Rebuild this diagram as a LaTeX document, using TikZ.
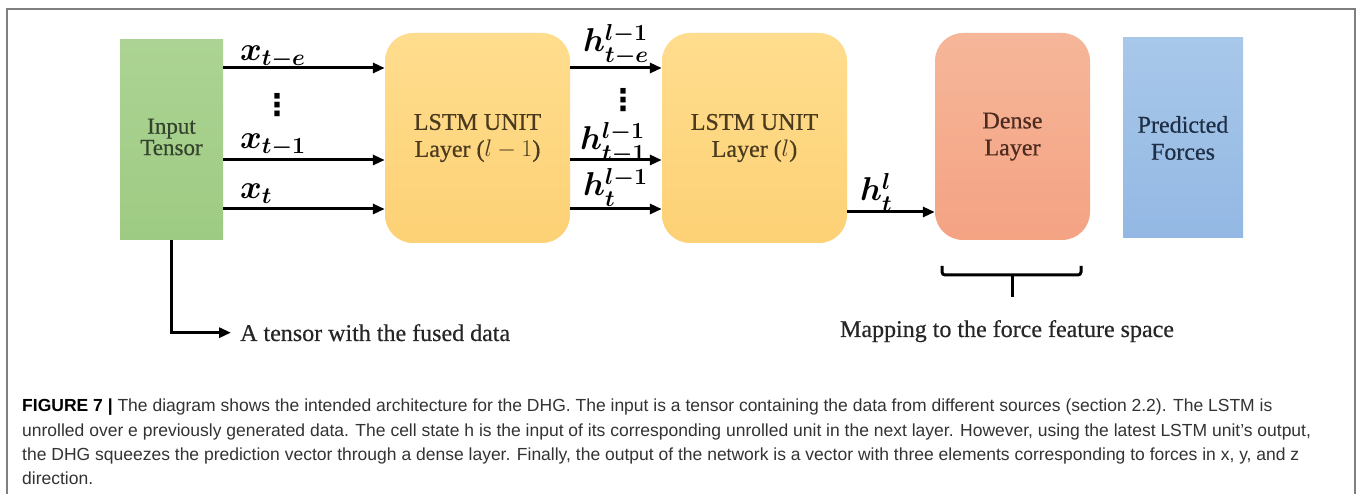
\documentclass[tikz,border=0pt]{standalone}
\usepackage{fix-cm}
\usepackage{fontspec}
\setmainfont{Liberation Serif}
\newfontfamily\capfont{Liberation Sans}
\newfontfamily\boxfont[FakeBold=0.5]{Liberation Serif}
\newfontfamily\dotfont{DejaVu Sans}
\usetikzlibrary{arrows.meta}
\definecolor{framec}{HTML}{7F7F7F}
\definecolor{greenT}{HTML}{ACD393}
\definecolor{greenB}{HTML}{9ECB84}
\definecolor{yelT}{HTML}{FFDD8E}
\definecolor{yelB}{HTML}{FDD175}
\definecolor{orT}{HTML}{F6B699}
\definecolor{orB}{HTML}{F4A383}
\definecolor{blT}{HTML}{A8C8EA}
\definecolor{blB}{HTML}{93B8E3}
\definecolor{greenTx}{HTML}{34432C}
\definecolor{yelTx}{HTML}{4A3A1E}
\definecolor{orTx}{HTML}{4C2A20}
\definecolor{blTx}{HTML}{1E2E45}
\definecolor{capc}{HTML}{333333}
\begin{document}
\begin{tikzpicture}[x=1pt,y=-1pt,
  box/.style={draw=none,inner sep=0pt,align=center,font=\boxfont\fontsize{24}{27}\selectfont},
  lstm/.style={box,rounded corners=28pt,minimum width=185pt,minimum height=210pt,top color=yelT,bottom color=yelB,text=yelTx},
  conn/.style={line width=3pt,-{Triangle[length=12pt,width=10pt]}},
  lab/.style={inner sep=0pt,anchor=base west,font=\boldmath\fontsize{33}{34}\selectfont},
  dotsn/.style={inner sep=0pt,font=\dotfont\bfseries\fontsize{30}{30}\selectfont},
  ann/.style={inner sep=0pt,font=\boxfont\fontsize{24}{28}\selectfont,text=black!85},
  capline/.style={inner sep=0pt,anchor=base west,font=\capfont\fontsize{17.5}{24}\selectfont,text=capc}
]
\useasboundingbox (0,0) rectangle (1360,494);
\fill[white] (0,0) rectangle (1360,494);
\draw[framec,line width=2pt] (7,494) -- (7,9) -- (1355,9) -- (1355,494);

% boxes
\node[box,minimum width=103pt,minimum height=200pt,top color=greenT,bottom color=greenB,text=greenTx,font=\boxfont\fontsize{23}{21}\selectfont] (inp) at (171.5,140) {\raisebox{-6pt}{\begin{tabular}{@{}c@{}}Input\\Tensor\end{tabular}}};
\node[lstm] (l1) at (477.5,138) {LSTM UNIT\\Layer ($l-1$)};
\node[lstm] (l2) at (754.5,138) {LSTM UNIT\\Layer ($l$)};
\node[box,rounded corners=28pt,minimum width=155pt,minimum height=207pt,top color=orT,bottom color=orB,text=orTx] (dense) at (1012.5,136.5) {\raisebox{-3pt}{\begin{tabular}{@{}c@{}}Dense\\Layer\end{tabular}}};
\node[box,minimum width=120pt,minimum height=200pt,top color=blT,bottom color=blB,text=blTx] (pred) at (1183,138) {Predicted\\Forces};

% row levels
\coordinate (r1) at (0,68);
\coordinate (r2) at (0,160);
\coordinate (r3) at (0,209);
\coordinate (r4) at (0,212);

% arrows
\draw[conn] (inp.east |- r1) -- (l1.west |- r1);
\draw[conn] (inp.east |- r2) -- (l1.west |- r2);
\draw[conn] (inp.east |- r3) -- (l1.west |- r3);
\draw[conn] (l1.east |- r1) -- (l2.west |- r1);
\draw[conn] (l1.east |- r2) -- (l2.west |- r2);
\draw[conn] (l1.east |- r3) -- (l2.west |- r3);
\draw[conn] (l2.east |- r4) -- (dense.west |- r4);

% labels
\node[lab] (lxe) at (240,61) {$x_{t-e}$};
\node[lab] (lx1) at (240,149) {$x_{t-1}$};
\node[lab] (lxt) at (240,199) {$x_t$};
\node[dotsn] (dx) at (277,105) {⋮};
\node[lab] (lhe) at (583,52) {$h^{l-1}_{t-e}$};
\node[lab] (lh1) at (580,150) {$h^{l-1}_{t-1}$};
\node[lab] (lht) at (583,196) {$h^{l-1}_{t}$};
\node[dotsn] (dh) at (623,100) {⋮};
\node[lab] (lhl) at (860,201) {$h^{l}_{t}$};

% tensor annotation
\node[ann,anchor=base west] (tt) at (240,341) {A tensor with the fused data};
\draw[conn] (inp.south) |- ([xshift=-9pt]tt.west);

% brace under dense layer
\coordinate (bl) at (942,266);
\coordinate (br) at (1081,266);
\coordinate (bm) at (1012,275);
\coordinate (bs) at (1012,297);
\draw[line width=3pt,rounded corners=3pt] (bl) -- (bl |- bm) -- (br |- bm) -- (br);
\draw[line width=3pt] (bm) -- (bs);
\node[ann,anchor=base] (map) at (1007,337) {Mapping to the force feature space};

% caption
\node[capline] (c1) at (22,411) {{\bfseries\color{black}FIGURE 7 |} The diagram shows the intended architecture for the DHG. The input is a tensor containing the data from different sources (section 2.2). The LSTM is};
\node[capline] (c2) at (22,436) {unrolled over e previously generated data. The cell state h is the input of its corresponding unrolled unit in the next layer. However, using the latest LSTM unit’s output,};
\node[capline] (c3) at (22,460) {the DHG squeezes the prediction vector through a dense layer. Finally, the output of the network is a vector with three elements corresponding to forces in x, y, and z};
\node[capline] (c4) at (22,484) {direction.};
\end{tikzpicture}
\end{document}
